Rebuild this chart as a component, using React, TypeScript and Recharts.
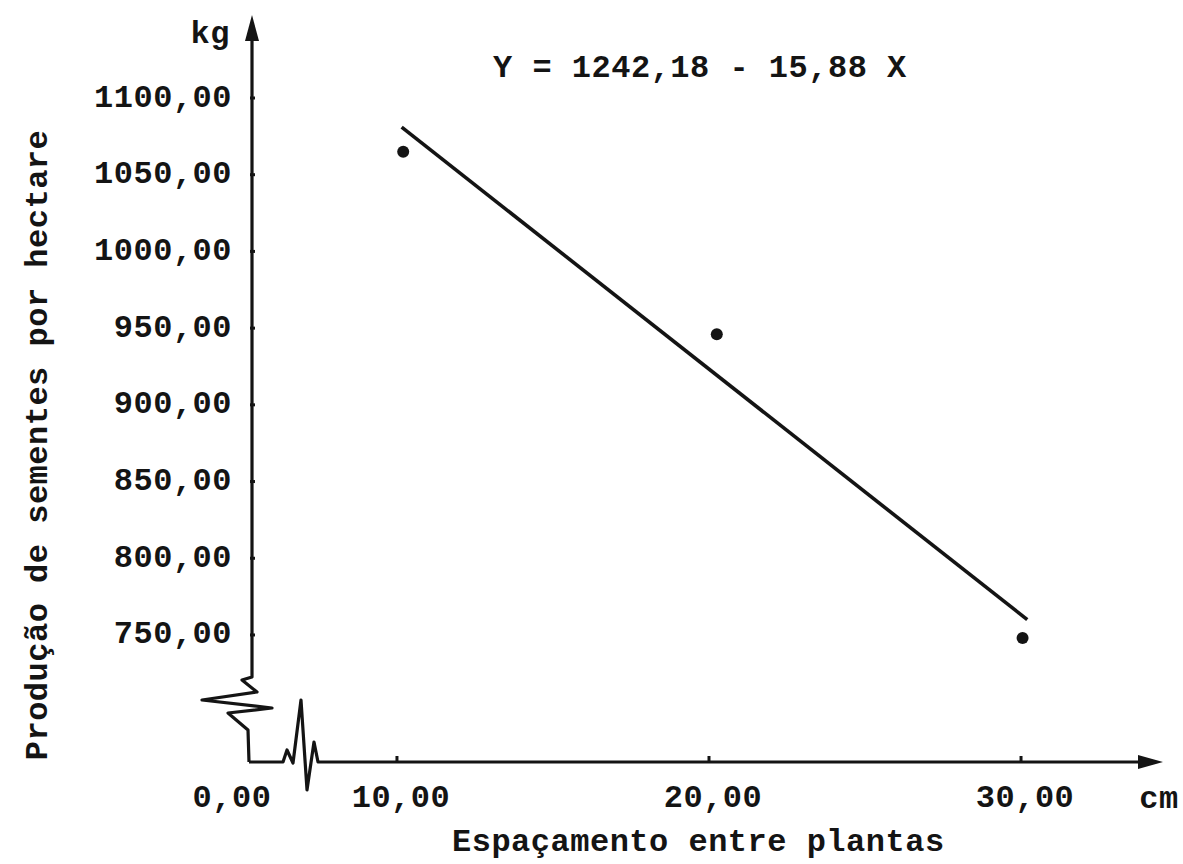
import { ScatterChart, Scatter, XAxis, YAxis } from 'recharts';

const spacingCm = [10.2, 20.25, 30.05];
const yieldKg = [1065, 946, 748];

// end points of the fitted line Y = 1242,18 - 15,88 X as drawn
const fitSpacing = [10.15, 30.2];
const fitYield = [1081, 760];

// x axis is broken: the origin is labelled 0,00
const xTicks = [5.29, 10, 20, 30];
const xTickLabels = ['0,00', '10,00', '20,00', '30,00'];
const yTicks = [750, 800, 850, 900, 950, 1000, 1050, 1100];
const yTickLabels = ['750,00', '800,00', '850,00', '900,00', '950,00', '1000,00', '1050,00', '1100,00'];

const equation = 'Y = 1242,18 - 15,88 X';
const xTitle = 'Espaçamento entre plantas';
const yTitle = 'Produção de sementes por hectare';

const points = spacingCm.map((x, i) => ({ x, y: yieldKg[i] }));
const fitLine = fitSpacing.map((x, i) => ({ x, y: fitYield[i] }));

const INK = '#141414';
const FONT = "'Liberation Mono', 'DejaVu Sans Mono', monospace";
const textStyle = { fontFamily: FONT, fontWeight: 700, fontSize: 32, letterSpacing: 0.5 };

const YTick = ({ x, y, payload, index }: any) => (
  <g>
    <line x1={x} y1={y} x2={x + 5} y2={y} stroke={INK} strokeWidth={3} />
    <text x={x - 18} y={y} textAnchor="end" dominantBaseline="central" fill={INK} style={textStyle}>
      {yTickLabels[index] ?? payload.value}
    </text>
  </g>
);

const XTick = ({ x, y, payload, index }: any) => {
  const origin = index === 0;
  return (
    <g>
      {!origin && <line x1={x} y1={y} x2={x} y2={y - 6} stroke={INK} strokeWidth={3} />}
      <text x={origin ? x - 18 : x + 4} y={y + 36} textAnchor="middle" dominantBaseline="central" fill={INK} style={textStyle}>
        {xTickLabels[index] ?? payload.value}
      </text>
    </g>
  );
};

// vertical axis with arrow, break zigzag, unit, equation and the y title
const YAxisDecor = ({ viewBox }: any) => {
  const ax = viewBox.x + viewBox.width;
  const top = viewBox.y;
  const bottom = viewBox.y + viewBox.height;
  const zig = [
    [2, top + 22], [2, bottom - 85], [-8, bottom - 82], [7, bottom - 70], [-48, bottom - 62],
    [22, bottom - 54], [-22, bottom - 49], [-2, bottom - 32], [-1, bottom],
  ].map(([dx, y]) => `${ax + dx},${y}`).join(' ');
  return (
    <g>
      <polyline points={zig} fill="none" stroke={INK} strokeWidth={3.2} strokeLinejoin="round" />
      <polygon points={`${ax + 2},${top} ${ax - 5},${top + 26} ${ax + 9},${top + 26}`} fill={INK} />
      <text x={ax - 20} y={top + 19} textAnchor="end" dominantBaseline="central" fill={INK} style={textStyle}>kg</text>
      <text x={ax + 243} y={top + 53} textAnchor="start" dominantBaseline="central" fill={INK} style={textStyle}>{equation}</text>
      <text
        x={38}
        y={445}
        transform="rotate(-90 38 445)"
        textAnchor="middle"
        dominantBaseline="central"
        fill={INK}
        style={textStyle}
      >
        {yTitle}
      </text>
    </g>
  );
};

// horizontal axis with break, arrow, unit and title
const XAxisDecor = ({ viewBox }: any) => {
  const x0 = viewBox.x;
  const ay = viewBox.y;
  const right = viewBox.x + viewBox.width;
  const zig = [
    [-1, 0], [33, 0], [37, -12], [43, 1], [51, -62], [57, 28], [64, -20], [68, 0], [viewBox.width - 20, 0],
  ].map(([dx, dy]) => `${x0 + dx},${ay + dy}`).join(' ');
  return (
    <g>
      <polyline points={zig} fill="none" stroke={INK} strokeWidth={3.2} strokeLinejoin="round" />
      <polygon points={`${right},${ay} ${right - 25},${ay - 7} ${right - 25},${ay + 7}`} fill={INK} />
      <text x={right - 4} y={ay + 37} textAnchor="middle" dominantBaseline="central" fill={INK} style={textStyle}>cm</text>
      <text x={x0 + 202} y={ay + 80} textAnchor="start" dominantBaseline="central" fill={INK} style={textStyle}>{xTitle}</text>
    </g>
  );
};

const NoDot = () => <g />;

export default function App() {
  return (
    <div style={{ position: 'absolute', left: 0, top: 0, background: '#fff' }}>
      <ScatterChart width={1183} height={864} margin={{ top: 15, right: 20, bottom: 0, left: 0 }}>
        <XAxis
          type="number"
          dataKey="x"
          domain={[5.29, 34.55]}
          ticks={xTicks}
          interval={0}
          allowDataOverflow
          axisLine={false}
          tickLine={false}
          tickSize={0}
          tickMargin={0}
          height={102}
          tick={<XTick />}
          label={{ content: <XAxisDecor /> }}
        />
        <YAxis
          type="number"
          dataKey="y"
          domain={[667.2, 1154.1]}
          ticks={yTicks}
          interval={0}
          allowDataOverflow
          axisLine={false}
          tickLine={false}
          tickSize={0}
          tickMargin={0}
          width={250}
          tick={<YTick />}
          label={{ content: <YAxisDecor /> }}
        />
        <Scatter
          data={fitLine}
          line={{ stroke: INK, strokeWidth: 3.6 }}
          shape={<NoDot />}
          isAnimationActive={false}
        />
        <Scatter
          data={points}
          fill={INK}
          shape={(p: any) => <circle cx={p.cx} cy={p.cy} r={6} fill={INK} />}
          isAnimationActive={false}
        />
      </ScatterChart>
    </div>
  );
}
